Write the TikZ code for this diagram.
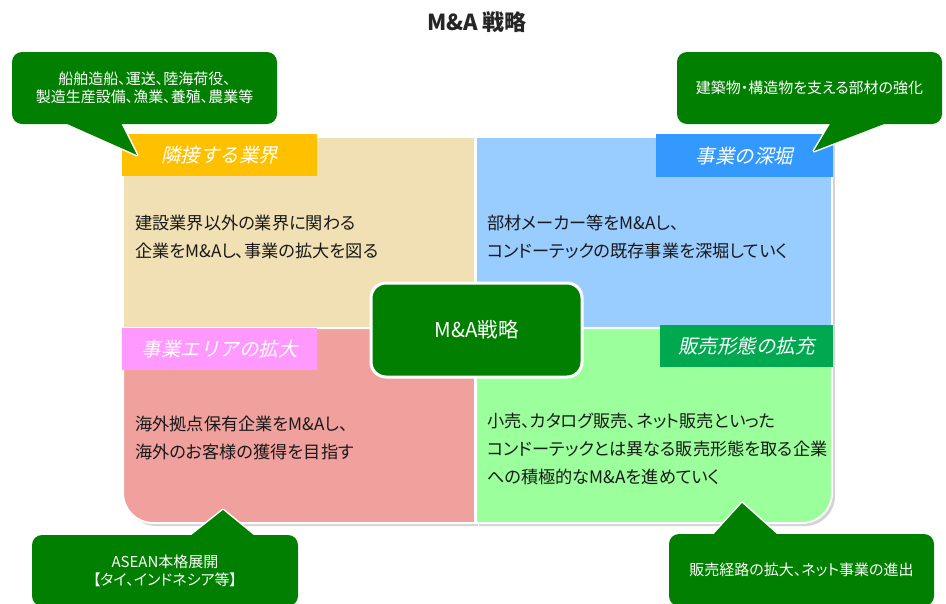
\documentclass[tikz,border=0pt]{standalone}
\usepackage{fontspec}
\setmainfont[RawFeature=+palt]{Noto Sans CJK JP}
\newfontfamily\labfont[FakeSlant=0.22]{Noto Sans CJK JP}
\usetikzlibrary{shadows}
\definecolor{qtan}{HTML}{F0E0B3}
\definecolor{qblue}{HTML}{99CCFF}
\definecolor{qpink}{HTML}{F0A19E}
\definecolor{qgreen}{HTML}{9BFF9B}
\definecolor{lorange}{HTML}{FFC000}
\definecolor{lblue}{HTML}{3399FF}
\definecolor{lpink}{HTML}{FF99FF}
\definecolor{lgreen}{HTML}{00A84F}
\definecolor{cgreen}{HTML}{007F00}
\tikzset{
  quad/.style={draw=white, line width=2pt, line join=round,
    drop shadow={opacity=0.35, shadow xshift=3pt, shadow yshift=-3pt}},
  lab/.style={inner sep=0pt, anchor=north west, text=white,
    font=\labfont\fontsize{19.5}{22}\selectfont},
  qtext/.style={inner sep=0pt, anchor=west, align=left, text=black!90,
    font=\fontsize{17.2}{28}\selectfont},
  cline/.style={draw=white, line width=3pt, line join=round},
  cbody/.style={fill=cgreen, rounded corners=10pt, inner sep=0pt, text=white,
    align=center, font=\fontsize{15}{18}\selectfont},
}
\begin{document}
\begin{tikzpicture}[x=1pt,y=-1pt]
\useasboundingbox (0,0) rectangle (946,603);
% title
\node[font=\bfseries\fontsize{22}{26}\selectfont, text=black!85] (title) at (477,22) {M\&A 戦略};
% quadrants
\path[quad, fill=qtan] (123,137) rectangle (475,328);
\path[quad, fill=qblue] (476,137) rectangle (832,328);
\path[quad, fill=qpink] (123,328) -- (475,328) -- (475,523) -- (153,523)
  .. controls (136.4,523) and (123,509.6) .. (123,493) -- cycle;
\path[quad, fill=qgreen] (476,328) -- (832,328) -- (832,493)
  .. controls (832,509.6) and (818.6,523) .. (802,523) -- (476,523) -- cycle;
% labels
\node[lab, fill=lorange, minimum width=195pt, minimum height=42pt] (l1) at (122,134) {隣接する業界};
\node[lab, fill=lblue, minimum width=177pt, minimum height=43pt] (l2) at (656,134) {事業の深堀};
\node[lab, fill=lpink, minimum width=195pt, minimum height=42pt] (l3) at (122,328) {事業エリアの拡大};
\node[lab, fill=lgreen, minimum width=173pt, minimum height=42pt] (l4) at (660,325) {販売形態の拡充};
% quadrant texts
\node[qtext] (t1) at (135,237) {建設業界以外の業界に関わる\\企業をM\&Aし、事業の拡大を図る};
\node[qtext] (t2) at (487,237) {部材メーカー等をM\&Aし、\\コンドーテックの既存事業を深堀していく};
\node[qtext] (t3) at (135,438) {海外拠点保有企業をM\&Aし、\\海外のお客様の獲得を目指す};
\node[qtext] (t4) at (487,449) {小売、カタログ販売、ネット販売といった\\コンドーテックとは異なる販売形態を取る企業\\への積極的なM\&Aを進めていく};
% center box
\node[fill=cgreen, draw=white, line width=3pt, rounded corners=15pt,
  minimum width=211pt, minimum height=94pt, text=white,
  font=\fontsize{20.5}{24}\selectfont] (ctr) at (476.5,330) {M\&A戦略};
% callout top-left
\path[cline, rounded corners=10pt] (12,51) rectangle (277,123);
\coordinate (p1) at (137,155);
\path[cline] (56,119) -- (p1) -- (119,119);
\fill[cgreen] (56,119) -- (p1) -- (119,119) -- cycle;
\node[cbody, minimum width=265pt, minimum height=72pt] (c1) at (144.5,88)
  {船舶造船、運送、陸海荷役、\\製造生産設備、漁業、養殖、農業等};
% callout top-right
\path[cline, rounded corners=10pt] (677,51) rectangle (942,123);
\coordinate (p2) at (814,151);
\path[cline] (833,119) -- (p2) -- (897,119);
\fill[cgreen] (833,119) -- (p2) -- (897,119) -- cycle;
\node[cbody, minimum width=265pt, minimum height=72pt] (c2) at (809.5,88)
  {建築物・構造物を支える部材の強化};
% callout bottom-left
\path[cline, rounded corners=10pt] (32,533) rectangle (298,604);
\coordinate (p3) at (223,510);
\path[cline] (189,537) -- (p3) -- (256,537);
\fill[cgreen] (189,537) -- (p3) -- (256,537) -- cycle;
\node[cbody, minimum width=266pt, minimum height=71pt] (c3) at (165,570.5)
  {ASEAN本格展開\\【タイ、インドネシア等】};
% callout bottom-right
\path[cline, rounded corners=10pt] (669,532) rectangle (934,604);
\coordinate (p4) at (742,503);
\path[cline] (712,536) -- (p4) -- (779,536);
\fill[cgreen] (712,536) -- (p4) -- (779,536) -- cycle;
\node[cbody, minimum width=265pt, minimum height=72pt] (c4) at (801.5,570)
  {販売経路の拡大、ネット事業の進出};
\end{tikzpicture}
\end{document}
